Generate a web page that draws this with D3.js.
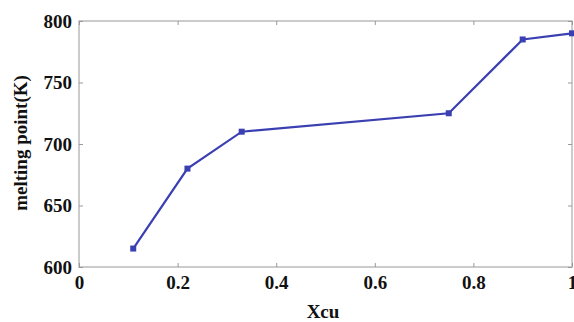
<!DOCTYPE html>
<meta charset='utf-8'>
<title>melting point</title>
<style>
  body { margin: 0; background: #fff; }
  svg { display: block; }
</style>
<body>
<script src='https://cdn.jsdelivr.net/npm/d3@7/dist/d3.min.js'></script>
<script>

  var xcu = [0.11, 0.22, 0.33, 0.75, 0.90, 1.0]
  var melt = [615, 680, 710, 725, 785, 790]
  var xTicks = [0, 0.2, 0.4, 0.6, 0.8, 1]
  var yTicks = [600, 650, 700, 750, 800]

  var width = 574, height = 322
  var margin = { top: 21, right: 2, bottom: 55, left: 79 }
  var serif = "'Liberation Serif', 'Times New Roman', serif"

  var svg = d3.select('body').append('svg')
    .attr('width', width)
    .attr('height', height)

  var x = d3.scaleLinear().domain([0, 1]).range([margin.left, width - margin.right])
  var y = d3.scaleLinear().domain([600, 800]).range([height - margin.bottom, margin.top])

  var fmt = function(d) { return d === 0 || d === 1 ? d : d3.format('.1f')(d) }

  // box
  svg.append('rect')
    .attr('x', x(0)).attr('y', y(800))
    .attr('width', x(1) - x(0)).attr('height', y(600) - y(800))
    .attr('fill', 'none').attr('stroke', '#bbb').attr('stroke-width', 1.5)

  // axes, ticks pointing inward on all four sides
  svg.append('g')
    .attr('class', 'axis')
    .attr('transform', 'translate(0,' + y(600) + ')')
    .call(d3.axisBottom(x).tickValues(xTicks).tickFormat(fmt).tickSizeInner(-4).tickSizeOuter(0).tickPadding(9))
  svg.append('g')
    .attr('class', 'axis')
    .attr('transform', 'translate(' + x(0) + ',0)')
    .call(d3.axisLeft(y).tickValues(yTicks).tickSizeInner(-4).tickSizeOuter(0).tickPadding(7))
  svg.append('g')
    .attr('transform', 'translate(0,' + y(800) + ')')
    .call(d3.axisTop(x).tickValues(xTicks).tickFormat('').tickSizeInner(-4).tickSizeOuter(0))
  svg.append('g')
    .attr('transform', 'translate(' + x(1) + ',0)')
    .call(d3.axisRight(y).tickValues(yTicks).tickFormat('').tickSizeInner(-4).tickSizeOuter(0))

  svg.selectAll('.domain').remove()
  svg.selectAll('.tick line').attr('stroke', '#999')
  svg.selectAll('.axis')
    .attr('font-family', serif)
    .attr('font-size', 19)
    .attr('font-weight', 'bold')
  svg.selectAll('.axis .tick text').attr('fill', '#111')

  // line
  var pts = xcu.map(function(v, i) { return [v, melt[i]] })
  var line = d3.line().x(function(d) { return x(d[0]) }).y(function(d) { return y(d[1]) })

  svg.append('path')
    .datum(pts)
    .attr('d', line)
    .attr('fill', 'none')
    .attr('stroke', '#3a3fb2')
    .attr('stroke-width', 2.2)

  svg.selectAll('rect.pt')
    .data(pts)
    .enter().append('rect')
    .attr('class', 'pt')
    .attr('x', function(d) { return x(d[0]) - 3 })
    .attr('y', function(d) { return y(d[1]) - 3 })
    .attr('width', 6).attr('height', 6)
    .attr('fill', '#3a3fb2')

  // labels
  svg.append('text')
    .attr('x', 323)
    .attr('y', 318)
    .attr('text-anchor', 'middle')
    .attr('font-family', serif)
    .attr('font-weight', 'bold')
    .attr('font-size', 19)
    .attr('fill', '#111')
    .text('Xcu')

  svg.append('text')
    .attr('transform', 'translate(27,143) rotate(-90)')
    .attr('text-anchor', 'middle')
    .attr('font-family', serif)
    .attr('font-weight', 'bold')
    .attr('font-size', 19)
    .attr('fill', '#111')
    .text('melting point(K)')

</script>
</body>
